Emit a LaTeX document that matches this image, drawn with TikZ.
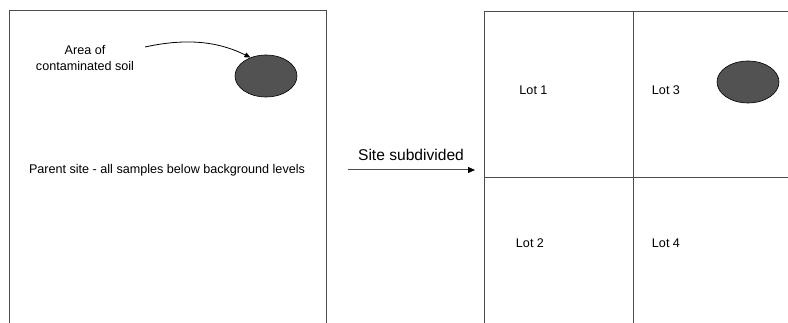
\documentclass[tikz,border=0pt]{standalone}
\usepackage{fontspec}
\setmainfont{Liberation Sans}
\usetikzlibrary{arrows.meta,shapes.geometric}
\begin{document}
\begin{tikzpicture}[x=1pt,y=-1pt,
  boxline/.style={draw=black!70,line width=1pt},
  blob/.style={draw=black,fill=black!68,line width=0.6pt},
  lbl/.style={font=\fontsize{12.6}{16}\selectfont,inner sep=0pt,anchor=center},
  big/.style={font=\fontsize{15.6}{18}\selectfont,inner sep=0pt}]
\useasboundingbox (0,0) rectangle (788,323);
% parent site box (open at bottom)
\coordinate (pbl) at (9,323);
\coordinate (ptl) at (9,11);
\coordinate (ptr) at (326,11);
\coordinate (pbr) at (326,323);
\draw[boxline] (pbl) -- (ptl) -- (ptr) -- (pbr);
% subdivided site
\coordinate (sbl) at (484,323);
\coordinate (stl) at (484,12);
\coordinate (str) at (788,12);
\coordinate (vt) at (633,12);
\coordinate (vb) at (633,323);
\coordinate (hl) at (484,178);
\coordinate (hr) at (788,178);
\draw[boxline] (sbl) -- (stl) -- (str);
\draw[boxline] (vt) -- (vb);
\draw[boxline] (hl) -- (hr);
% contaminated areas
\node[blob,ellipse,minimum width=62pt,minimum height=42pt,inner sep=0pt] (c1) at (266,76) {};
\node[blob,ellipse,minimum width=62pt,minimum height=42pt,inner sep=0pt] (c2) at (748,82) {};
\node[lbl,align=center] (area) at (85,58) {Area of\\contaminated soil};
\coordinate (as) at (145,47);
\draw[line width=0.8pt,-{Triangle[length=6pt,width=5pt]}] (as) .. controls (195,36) and (225,45) .. (c1.130);
\node[lbl] (parent) at (167,170) {Parent site - all samples below background levels};
% arrow
\coordinate (a1) at (348,170);
\coordinate (a2) at (475,170);
\draw[draw=black!70,line width=1pt,-{Triangle[length=7pt,width=6pt,fill=black,color=black]}] (a1) -- (a2);
\node[big] (sub) at (411,155) {Site subdivided};
\node[lbl] (l1) at (533.5,90) {Lot 1};
\node[lbl] (l3) at (666,90) {Lot 3};
\node[lbl] (l2) at (530,243) {Lot 2};
\node[lbl] (l4) at (666,243) {Lot 4};
\end{tikzpicture}
\end{document}
